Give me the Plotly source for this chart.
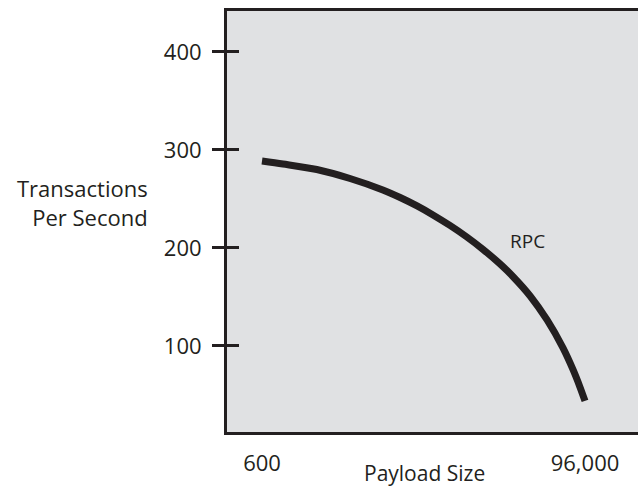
import plotly.graph_objects as go

# Data
payload = [600, 6800, 16800, 26600, 36300, 41400, 46400, 51100, 56100, 61100,
           65900, 70900, 74700, 79800, 84800, 89500, 92500, 94500, 96000]
tps = [288.8, 285.7, 280.1, 270.9, 259.2, 251.5, 242.9, 233.7, 223.0, 211.2,
       198.5, 183.7, 170.9, 151.0, 126.5, 98.0, 75.5, 58.2, 43.9]
series_name = "RPC"
x_tickvals = [600, 96000]
x_ticktext = ["600", "96,000"]
y_tickvals = [100, 200, 300, 400]

FONT = "Open Sans"
INK = "#231f20"
FS = 22

W, H = 638, 489
L, T, B, R = 227, 11, 489 - 432, 0
PW, PH = W - L - R, H - T - B


def px(xp):
    return (xp - L) / PW


def py(yp):
    return (H - B - yp) / PH


fig = go.Figure()
fig.add_trace(go.Scatter(x=payload, y=tps, mode="lines", name=series_name,
                         line=dict(color=INK, width=7, shape="spline", smoothing=0.8),
                         showlegend=False, hoverinfo="skip"))
# invisible trace for the overlay axis that draws the inner half of the ticks
fig.add_trace(go.Scatter(x=[payload[0]], y=[tps[0]], yaxis="y2", mode="markers",
                         marker=dict(opacity=0), showlegend=False, hoverinfo="skip"))

fig.update_layout(
    width=W, height=H,
    margin=dict(l=L, r=R, t=T, b=B, pad=0),
    paper_bgcolor="white",
    plot_bgcolor="#e0e1e3",
    font=dict(family=FONT, color=INK, size=FS),
    hovermode=False,
    xaxis=dict(range=[-9738, 111654], tickvals=x_tickvals, ticktext=x_ticktext,
               showgrid=False, zeroline=False, showline=True, linecolor=INK,
               linewidth=3, mirror=True, ticks="", ticklabelstandoff=10,
               tickfont=dict(size=FS, family=FONT, color=INK)),
    yaxis=dict(range=[12.2, 441.8], tickvals=y_tickvals, showgrid=False,
               zeroline=False, showline=True, linecolor=INK, linewidth=3,
               mirror=False, ticks="outside", ticklen=12, tickwidth=3,
               tickcolor=INK, ticklabelstandoff=6,
               tickfont=dict(size=FS, family=FONT, color=INK)),
    yaxis2=dict(overlaying="y", matches="y", side="left", tickvals=y_tickvals,
                showticklabels=False, showgrid=False, zeroline=False,
                ticks="inside", ticklen=12, tickwidth=3, tickcolor=INK,
                showline=False),
    annotations=[
        dict(text="Payload Size", xref="paper", yref="paper", x=px(424),
             y=py(489), xanchor="center", yanchor="bottom",
             showarrow=False, font=dict(size=21, family=FONT, color=INK)),
        dict(text="Transactions<br>Per Second", xref="paper", yref="paper",
             x=px(150), y=py(203), xanchor="right", align="right",
             yanchor="middle", showarrow=False,
             font=dict(size=FS, family=FONT, color=INK)),
        dict(text=series_name, xref="paper", yref="paper",
             x=px(527.5), y=py(241.5), xanchor="center",
             yanchor="middle", showarrow=False,
             font=dict(size=19, family=FONT, color=INK)),
    ],
)

fig.write_html("out.html",
               config={"displayModeBar": False, "staticPlot": True},
               post_script="document.body.style.margin='0';"
                           "document.documentElement.style.overflow='hidden';")
